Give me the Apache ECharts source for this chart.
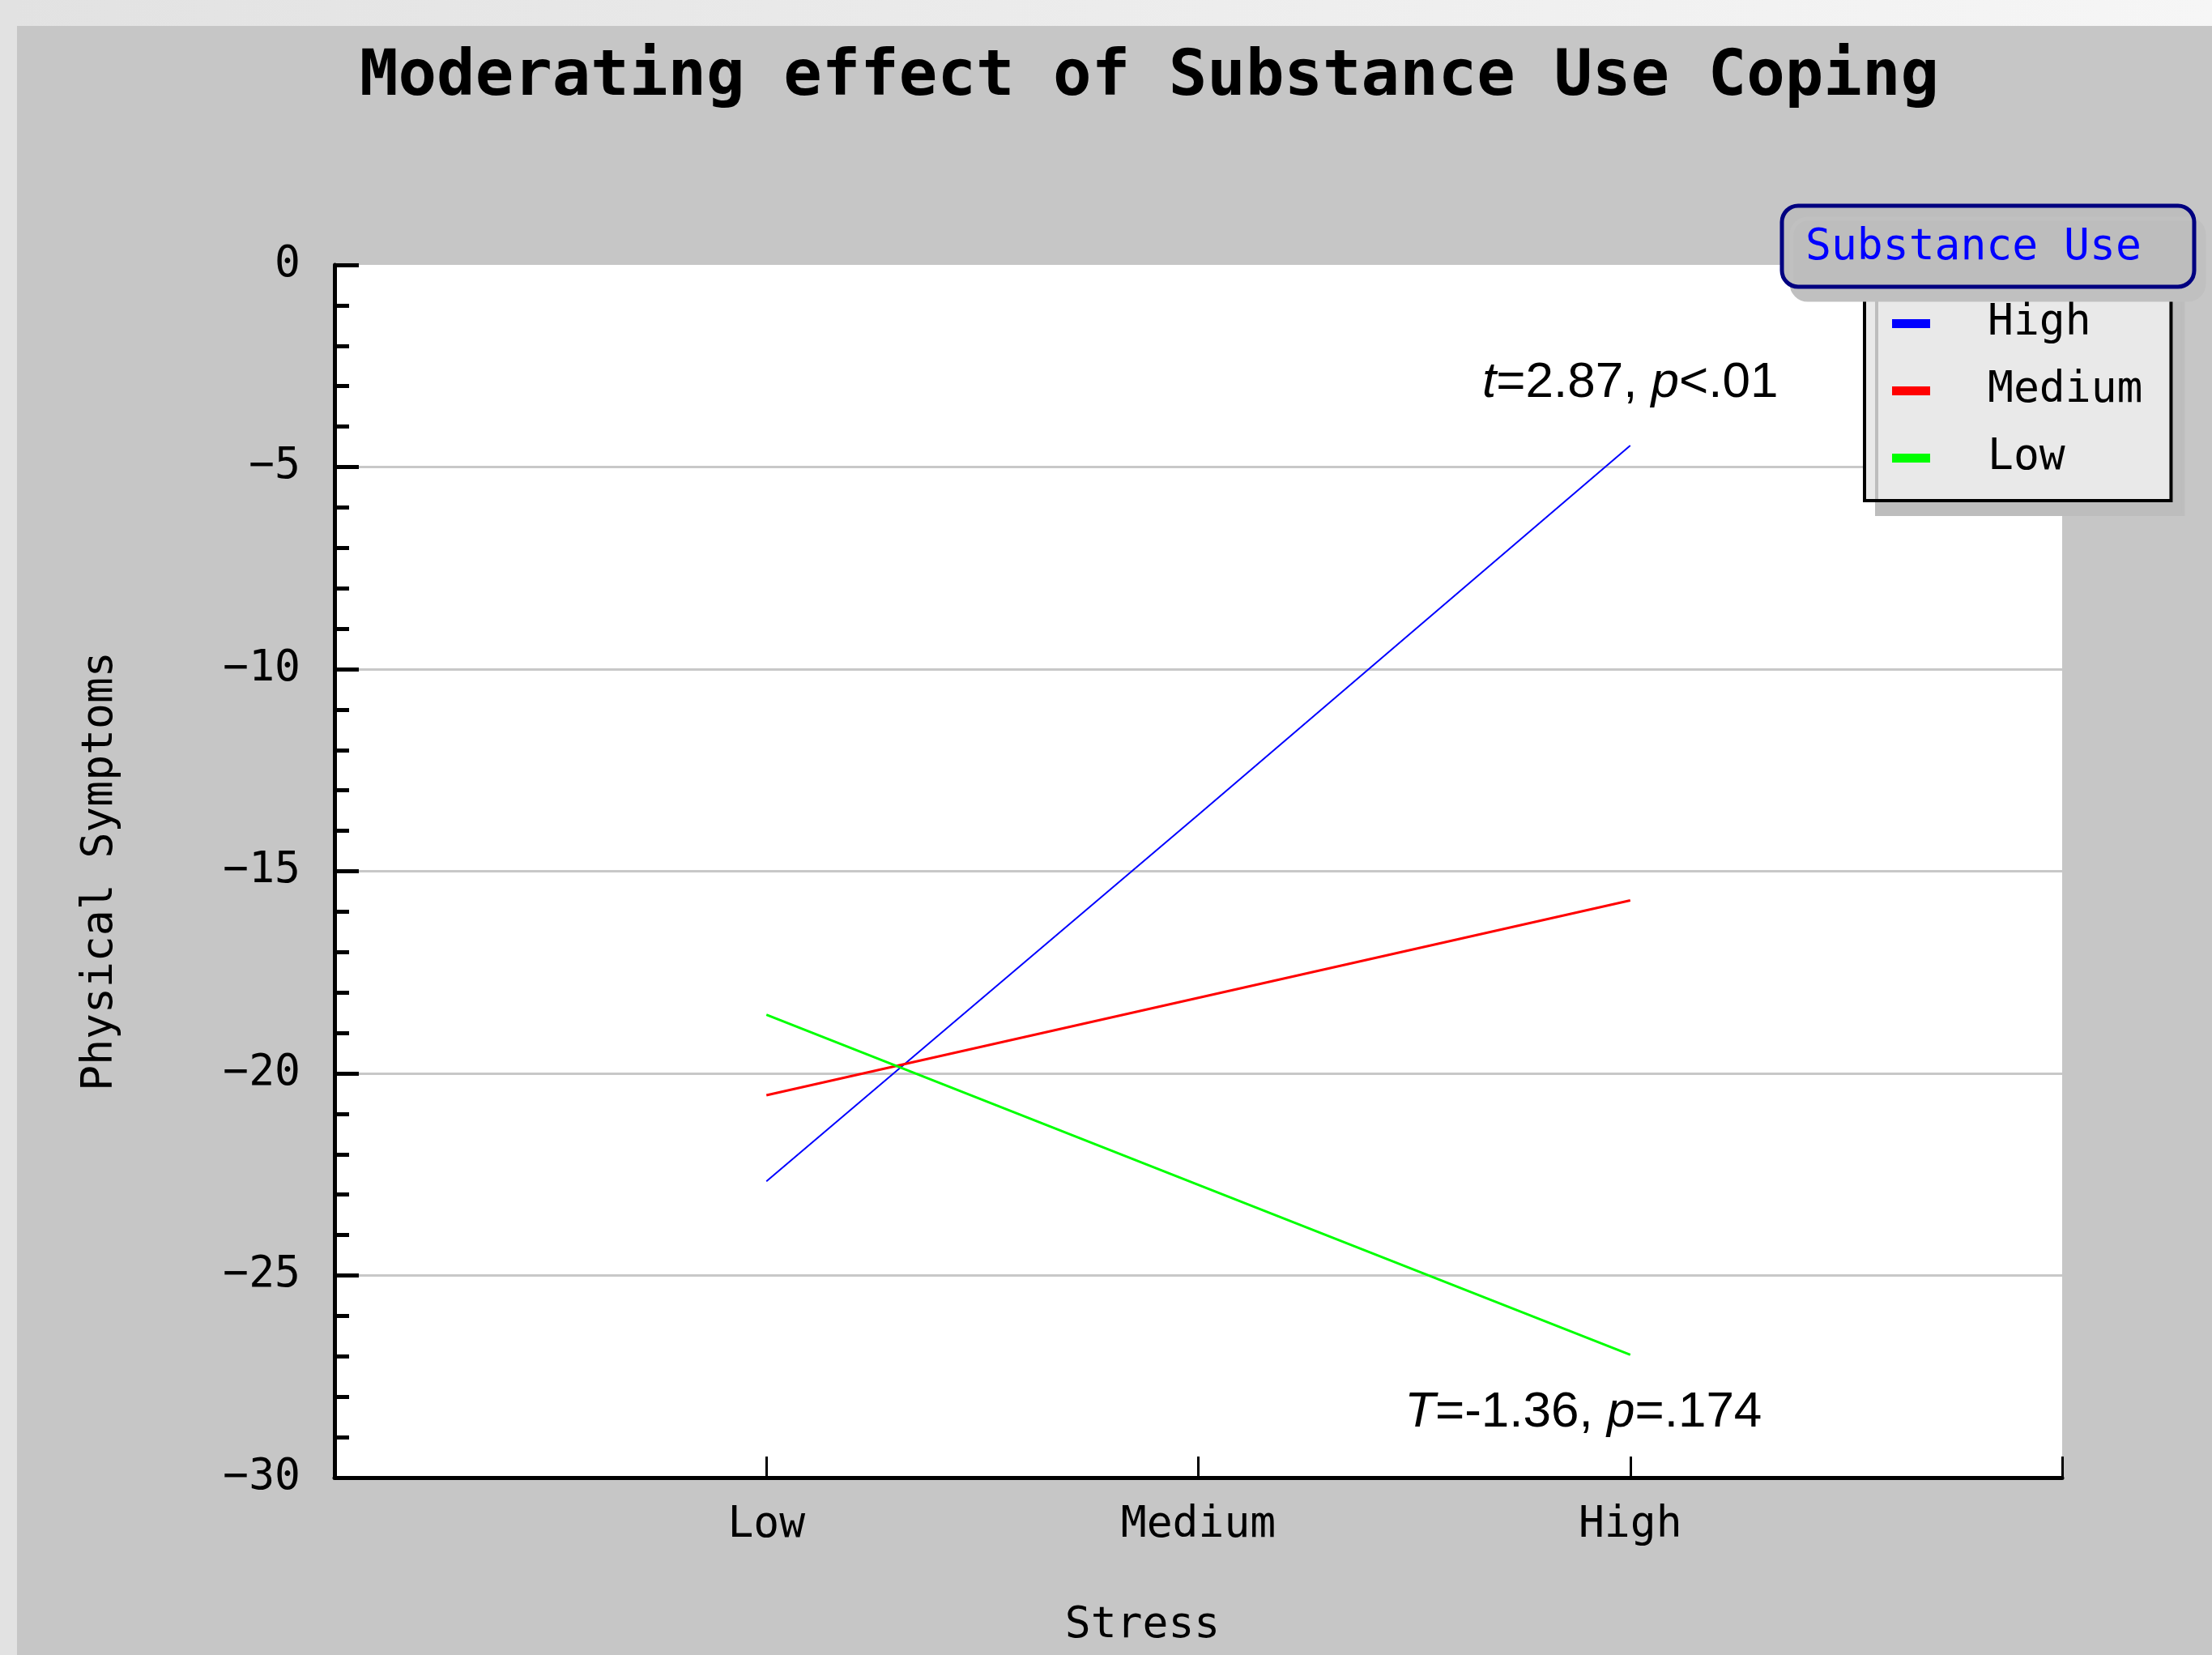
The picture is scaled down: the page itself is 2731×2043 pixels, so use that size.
<!DOCTYPE html>
<html>
<head>
<meta charset="utf-8">
<script src="https://cdn.jsdelivr.net/npm/echarts@6/dist/echarts.min.js"></script>
<style>
html,body{margin:0;padding:0;background:#e6e6e6;}
#chart{width:2731px;height:2043px;}
</style>
</head>
<body>
<div id="chart"></div>
<script>
// ---- data ----
const categories = ['Low', 'Medium', 'High'];
const seriesNames = ['High', 'Medium', 'Low'];
const highValues = [-22.67, -13.6, -4.47];
const mediumValues = [-20.54, -18.13, -15.72];
const lowValues = [-18.55, -22.76, -26.96];
const seriesColors = ['#0000ff', '#ff0000', '#00ff00'];
const titleText = 'Moderating effect of Substance Use Coping';
const legendTitle = 'Substance Use';
const xAxisName = 'Stress';
const yAxisName = 'Physical Symptoms';
const highNote = '{i|t}=2.87, {i|p}<.01';
const lowNote = '{i|T}=-1.36, {i|p}=.174';

const mono = 'DejaVu Sans Mono';
const noteStyle = {
  fontFamily: 'Liberation Sans', fontSize: 62, color: '#000', lineHeight: 62,
  rich: { i: { fontFamily: 'Liberation Sans', fontSize: 62, fontStyle: 'italic', color: '#000', lineHeight: 62 } }
};

function buildData(values, note, pos) {
  return values.map((v, i) => {
    const item = { value: [i + 1, v] };
    if (note && i === values.length - 1) {
      item.label = Object.assign({ show: true, formatter: note }, noteStyle, pos);
    }
    return item;
  });
}

const chart = echarts.init(document.getElementById('chart'), null, { renderer: 'canvas' });
const W = 2731, H = 2043;

function lineSeries(idx, values, width, note, pos) {
  return {
    name: seriesNames[idx], type: 'line', symbol: 'circle', symbolSize: 0.5, showSymbol: true,
    color: seriesColors[idx],
    itemStyle: { color: seriesColors[idx] },
    lineStyle: { width: width, color: seriesColors[idx] },
    label: { show: false },
    emphasis: { disabled: true },
    data: buildData(values, note, pos)
  };
}

const option = {
  backgroundColor: '#e6e6e6',
  animation: false,
  title: {
    text: titleText,
    left: 1414,
    top: 52,
    textAlign: 'center',
    textStyle: { fontFamily: mono, fontWeight: 'bold', fontSize: 79, lineHeight: 79, color: '#000' }
  },
  graphic: [
    { type: 'rect', z: -10, silent: true, shape: { x: 0, y: 0, width: W, height: 32 },
      style: { fill: new echarts.graphic.LinearGradient(0, 0, 1, 0, [{ offset: 0, color: '#e2e2e2' }, { offset: 1, color: '#f6f6f6' }]) } },
    { type: 'rect', z: -10, silent: true, shape: { x: 0, y: 0, width: 21, height: H }, style: { fill: '#e2e2e2' } },
    { type: 'rect', z: -9, silent: true, shape: { x: 21, y: 32, width: W - 21, height: H - 32 }, style: { fill: '#c6c6c6' } },
    { type: 'group', z: 100, children: [
      { type: 'rect', z: 100, shape: { x: 2200, y: 254, width: 509, height: 100, r: 20 },
        style: { fill: '#bdbdbd', stroke: '#000080', lineWidth: 5, shadowColor: '#c0c0c0', shadowOffsetX: 12, shadowOffsetY: 16, shadowBlur: 0 } },
      { type: 'text', z: 101, x: 2229, y: 306,
        style: { text: legendTitle, fontFamily: mono, fontSize: 53, fill: '#0000ff', verticalAlign: 'middle', align: 'left' } }
    ] }
  ],
  legend: {
    orient: 'vertical',
    left: 2302,
    top: 340,
    padding: [33, 35, 26, 34],
    itemGap: 30,
    itemWidth: 47,
    itemHeight: 11,
    icon: 'rect',
    backgroundColor: '#e9e9e9',
    borderColor: '#000',
    borderWidth: 4,
    shadowColor: '#bdbdbd',
    shadowOffsetX: 15,
    shadowOffsetY: 17,
    shadowBlur: 0,
    data: seriesNames,
    textStyle: { fontFamily: mono, fontSize: 53, lineHeight: 53, color: '#000', padding: [0, 0, 0, 66] }
  },
  grid: {
    left: 413, top: 327, right: W - 2546, bottom: H - 1824,
    show: true, backgroundColor: '#ffffff', borderWidth: 0
  },
  xAxis: {
    type: 'value', min: 0, max: 4, interval: 1,
    name: xAxisName, nameLocation: 'middle', nameGap: 157,
    nameTextStyle: { fontFamily: mono, fontSize: 53, lineHeight: 53, color: '#000', padding: [0, 138, 0, 0] },
    axisLine: { show: true, onZero: false, lineStyle: { color: '#000', width: 5 } },
    axisTick: { show: true, inside: true, length: 26, lineStyle: { color: '#000', width: 3 } },
    axisLabel: {
      margin: 33, fontFamily: mono, fontSize: 53, lineHeight: 53, color: '#000',
      formatter: v => categories[v - 1] || ''
    },
    splitLine: { show: false }
  },
  yAxis: {
    type: 'value', min: -30, max: 0, interval: 5,
    name: yAxisName, nameLocation: 'middle', nameGap: 262,
    nameTextStyle: { fontFamily: mono, fontSize: 53, lineHeight: 53, color: '#000' },
    axisLine: { show: true, lineStyle: { color: '#000', width: 5 } },
    axisTick: { show: true, inside: true, length: 30, lineStyle: { color: '#000', width: 5 } },
    minorTick: { show: true, splitNumber: 5, length: 18, lineStyle: { color: '#000', width: 5 } },
    axisLabel: { margin: 42, fontFamily: mono, fontSize: 53, lineHeight: 53, color: '#000', padding: [8, 0, 0, 0],
      formatter: v => String(v).replace('-', '\u2212') },
    splitLine: { show: true, lineStyle: { color: ['#c8c8c8', '#c8c8c8', '#c8c8c8', '#c8c8c8', '#c8c8c8', '#c8c8c8', 'rgba(0,0,0,0)'], width: 3 } }
  },
  series: [
    lineSeries(0, highValues, 2, highNote, { position: 'top', distance: 46, offset: [0, 0] }),
    lineSeries(1, mediumValues, 3),
    lineSeries(2, lowValues, 3, lowNote, { position: 'bottom', distance: 40, offset: [-58, 0] })
  ]
};
chart.setOption(option);
</script>
</body>
</html>
